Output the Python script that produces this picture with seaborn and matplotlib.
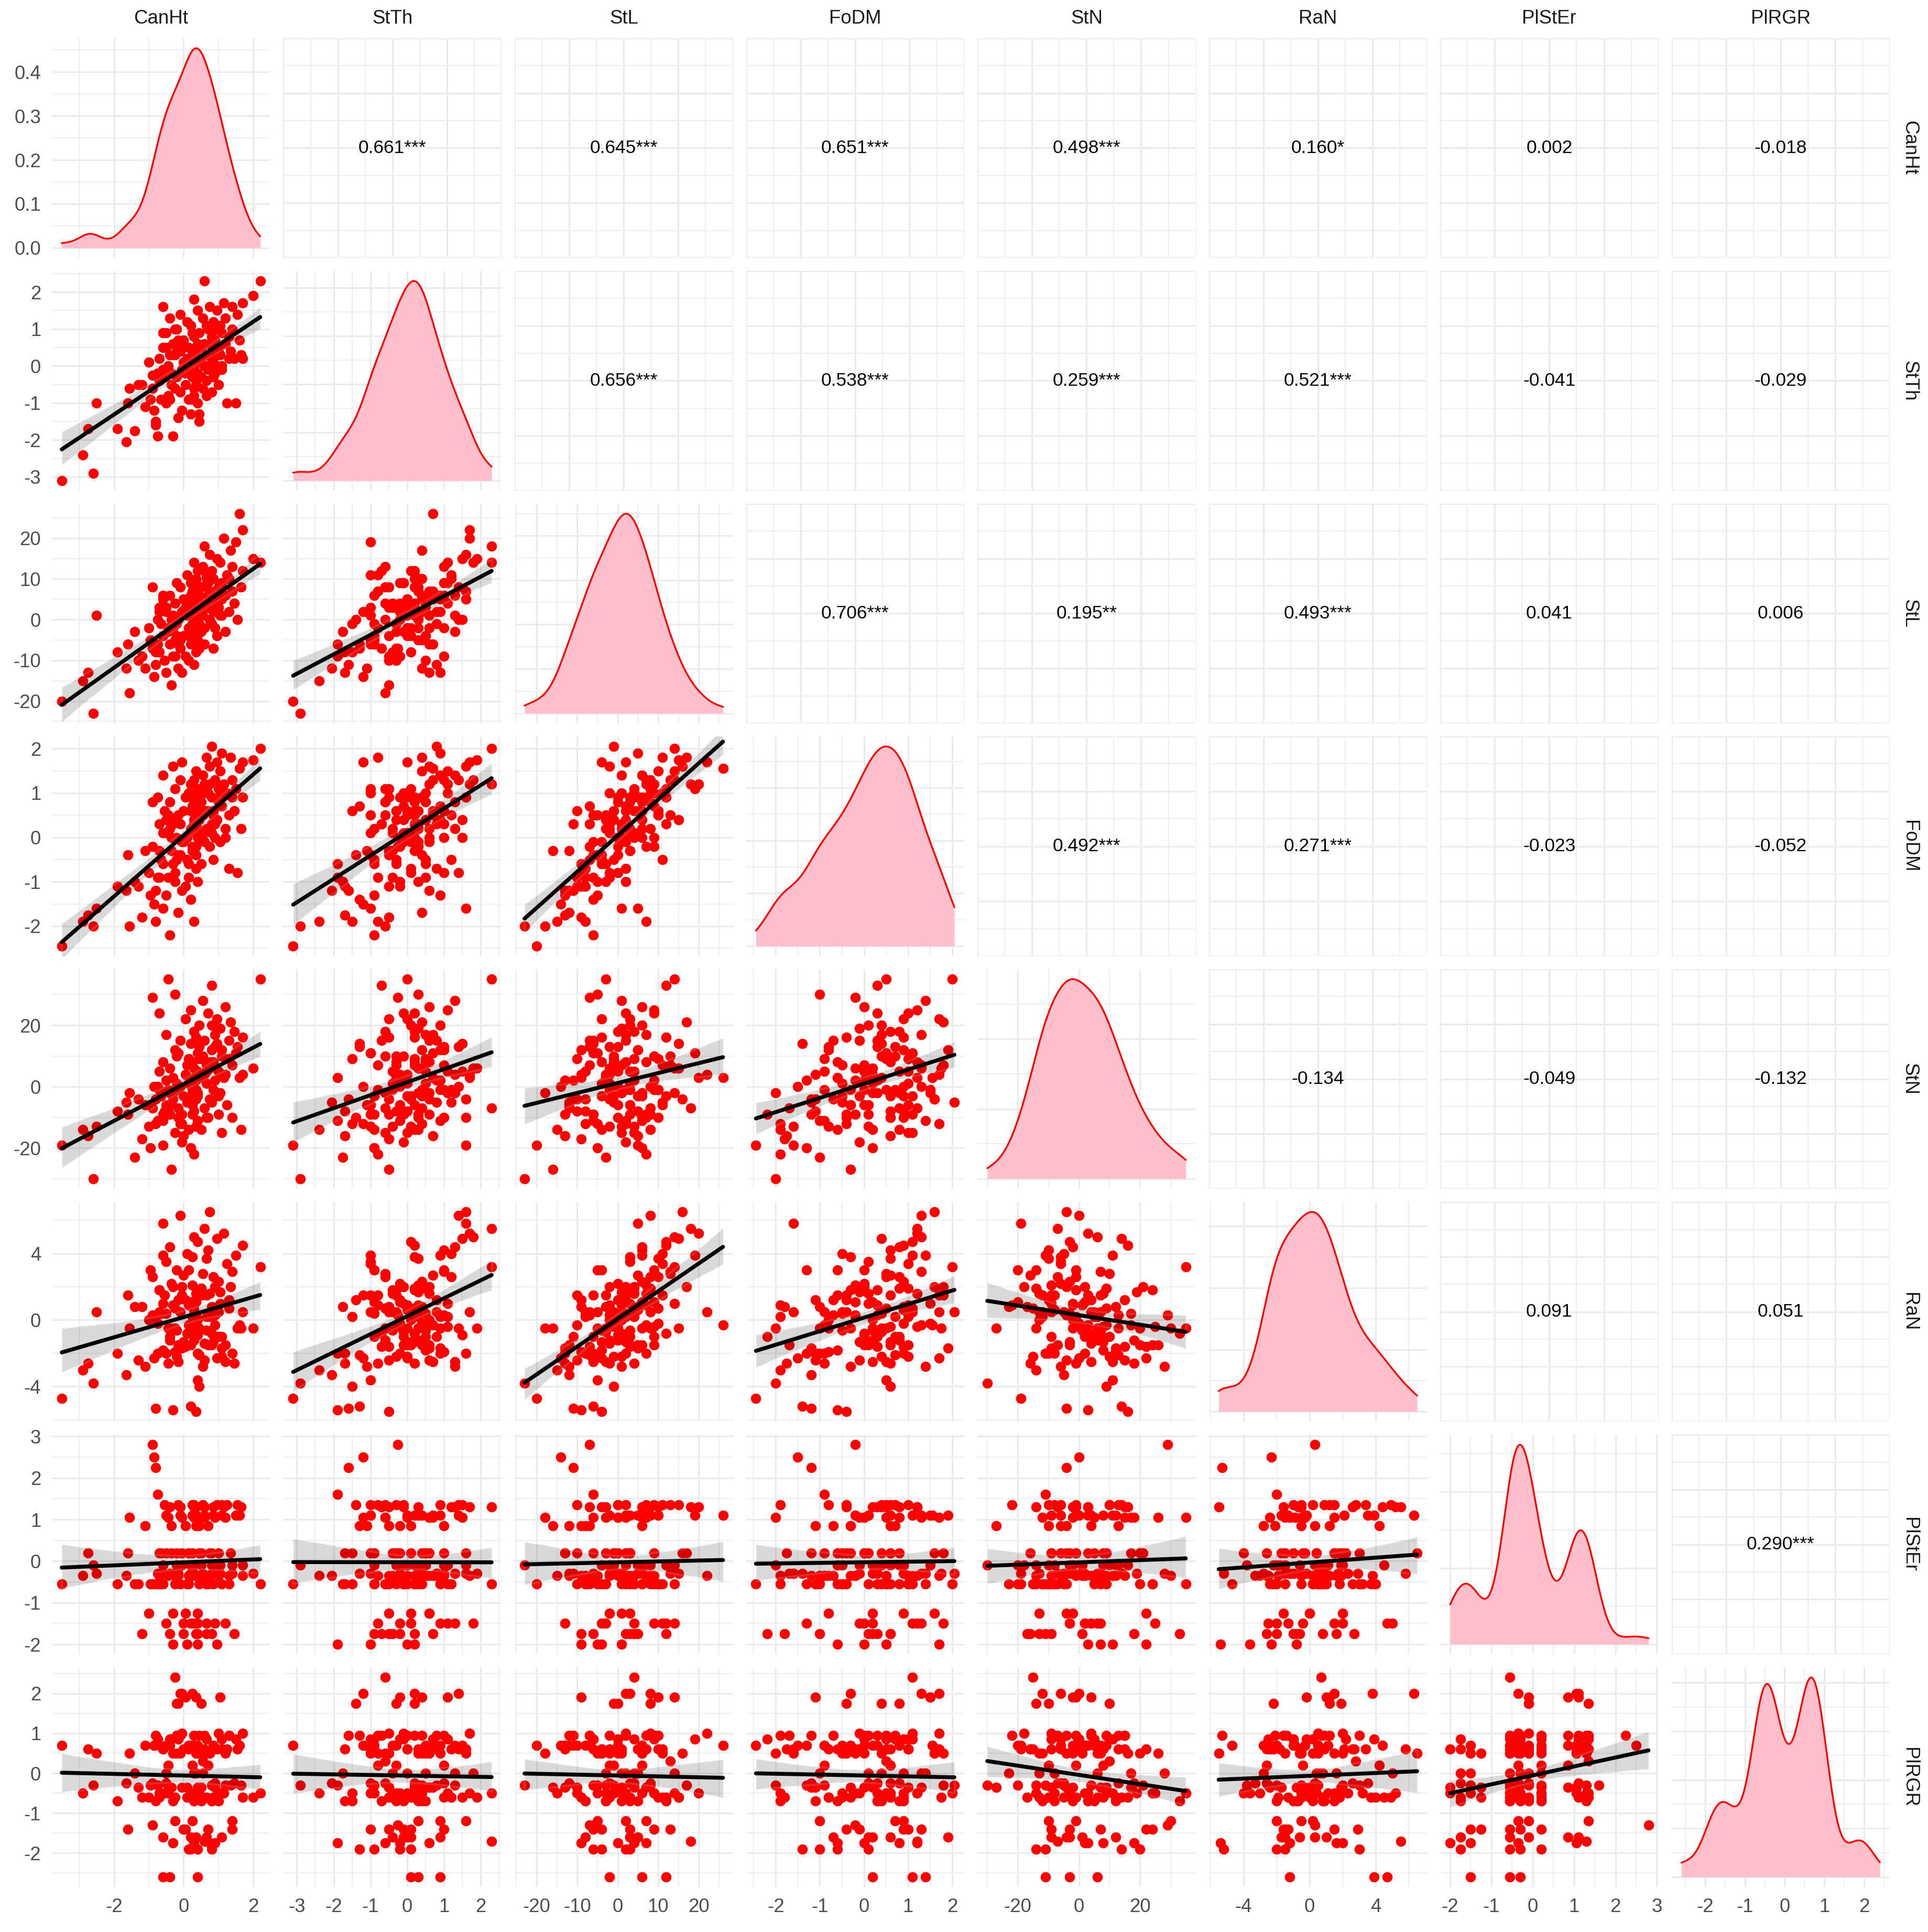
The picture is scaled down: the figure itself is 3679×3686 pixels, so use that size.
import matplotlib
matplotlib.use("Agg")
import matplotlib.pyplot as plt
from matplotlib.ticker import MultipleLocator, AutoMinorLocator, FixedLocator, MaxNLocator
import pandas as pd
import seaborn as sns

variables = ["CanHt", "StTh", "StL", "FoDM", "StN", "RaN", "PlStEr", "PlRGR"]

CanHt = [
    -3.5, -2.9, -2.75, -2.6, -2.5, -1.9, -1.65, -1.6, -1.55, -1.4,
    -1.2, -1.1, -1.0, -0.95, -0.9, -0.85, -0.8, -0.75, -0.7, -0.7,
    -0.65, -0.6, -0.6, -0.55, -0.5, -0.5, -0.45, -0.4, -0.4, -0.35,
    -0.3, -0.3, -0.25, -0.25, -0.2, -0.2, -0.15, -0.15, -0.1, -0.1,
    -0.05, 0.0, 0.0, 0.05, 0.05, 0.1, 0.1, 0.15, 0.15, 0.2,
    0.2, 0.25, 0.25, 0.3, 0.3, 0.3, 0.35, 0.35, 0.4, 0.4,
    0.2, 0.25, 0.25, 0.3, 0.3, 0.3, 0.35, 0.35, 0.4, 0.4,
    0.4, 0.45, 0.45, 0.5, 0.5, 0.5, 0.55, 0.55, 0.6, 0.6,
    0.6, 0.65, 0.65, 0.7, 0.7, 0.75, 0.75, 0.8, 0.8, 0.8,
    0.85, 0.85, 0.9, 0.9, 0.95, 0.95, 1.0, 1.0, 1.05, 1.05,
    1.1, 1.1, 1.15, 1.2, 1.2, 1.25, 1.3, 1.3, 1.35, 1.4,
    1.4, 1.45, 1.5, 1.55, 1.6, 1.65, 1.7, 2.0, 2.2, 1.7,
    -0.35, -0.2, -0.3, -0.6, -0.15, -0.7, -0.05, -0.4, -0.9, -0.25,
    -0.5, 0.2, -0.75, -0.1, 0.75, 0.8, 0.9, 1.0, -0.6, -0.45,
    -0.05, 0.15, 0.35, 0.45, 0.65, 0.65, 0.85, 1.1, -1.3, -0.8,
]

StTh = [
    -3.1, -2.4, -1.7, -2.9, -1.0, -1.7, -2.05, -1.0, -0.6, -1.75,
    -0.5, -1.1, 0.1, -0.9, -0.25, -1.2, -1.6, -1.9, 0.2, -0.4,
    -0.9, 0.5, 1.6, -0.3, -1.0, 0.9, 0.0, 1.3, -0.9, -0.5,
    0.6, -1.9, -0.6, 0.3, 1.0, -0.3, 0.4, -1.4, 1.4, -0.7,
    -1.2, 0.1, 0.7, -0.2, -0.5, 0.2, 1.2, 0.0, 0.5, -0.9,
    -1.3, 0.9, 0.3, -0.1, -0.6, 1.8, -0.4, 0.1, 0.6, -1.0,
    1.1, 0.2, -0.3, 0.0, 0.8, -0.8, 0.4, -0.5, 1.5, 0.1,
    -0.2, -1.3, 0.9, 0.5, -0.3, 0.2, 1.3, -0.6, 0.0, 2.3,
    0.6, -0.8, -0.4, 1.0, -0.1, 0.3, 1.6, 0.4, 0.8, -0.7,
    0.2, 1.2, 0.7, -0.2, 1.5, 0.0, -0.5, 0.5, 1.1, 0.3,
    -0.1, 0.9, 1.7, 0.6, 1.3, -1.0, 0.2, 0.8, 0.4, 1.6,
    1.0, 0.2, -1.0, 1.4, 0.7, 0.3, 0.2, 1.9, 2.3, 1.7,
    -0.2, 0.5, 0.3, 0.9, 0.7, -0.4, -0.1, 0.3, -0.6, 1.0,
    0.5, 0.0, -0.2, 0.4, 0.6, 0.1, 1.0, 0.4, -0.1, -0.8,
    0.6, -0.9, -0.2, -1.5, 1.1, 0.3, -0.3, 0.0, -0.5, -1.5,
]

StL = [
    -20, -15, -13, -23, 1, -8, -12, -6, -18, -3,
    -9, -12, -2, -5, -7, -14, -11, -6, 2, -8,
    -1, -4, 5, -10, 3, -13, -3, 6, -6, -16,
    -2, -9, 4, -5, 9, -1, -12, 0, 8, -7,
    2, -4, 5, -9, 3, 1, 11, -2, -10, 6,
    -6, 2, 7, -3, 0, 14, 4, -8, 1, -5,
    9, 3, -1, 5, -11, 7, 10, -4, 0, 12,
    2, -7, 6, 4, -3, 8, 1, 13, -2, 18,
    -6, 11, 3, 6, 9, 0, 16, 5, -1, 12,
    2, 10, 7, 4, 15, -4, 8, 3, 14, 1,
    9, 5, 20, 6, -3, 11, 10, 2, 17, 7,
    13, 4, 19, 0, 26, 8, 12, 15, 14, 22,
    0, -4, 1, 6, -6, 3, 2, -2, 8, -9,
    2, 5, 0, -5, 7, 3, -2, 6, 3, -2,
    -13, -4, 9, -1, 4, 10, -7, 1, -10, -8,
]

FoDM = [
    -2.45, -1.9, -1.75, -2.0, -1.6, -1.1, -1.2, -0.4, -2.0, -1.0,
    -1.8, -0.3, -0.8, -1.3, -0.2, -1.5, -1.2, -0.9, 0.3, -0.9,
    -0.5, -0.6, -1.6, 0.6, 0.1, -1.3, 0.5, 0.8, -2.2, -0.3,
    1.6, -0.6, 1.1, -1.0, 0.0, 0.4, -1.7, -0.4, 1.3, 0.3,
    1.7, -0.1, 0.6, -1.1, 0.9, 0.0, -0.5, 1.0, -0.9, 0.2,
    -1.4, 0.7, -0.2, 0.4, 0.8, 1.3, 0.1, -0.7, 0.2, 0.5,
    1.2, -0.3, 0.6, 0.9, 0.3, -1.9, 1.5, -0.4, 0.0, 1.1,
    -1.0, 0.7, 0.4, 1.0, -0.6, 0.8, 1.4, 0.5, 0.1, 1.2,
    -0.1, 1.8, 0.2, 0.6, 1.0, -0.2, 1.6, 0.9, 2.05, 0.3,
    0.6, 0.5, 1.3, 0.0, 0.4, 1.7, 1.1, 0.8, 1.5, -0.1,
    0.7, 1.9, 1.2, 0.0, 0.2, 1.0, 0.5, -0.7, 1.8, 0.9,
    1.3, 0.6, 1.1, -0.8, 1.55, 0.2, 0.9, 1.75, 2.0, 1.7,
    0.0, -0.5, 0.3, 1.4, 0.5, -0.3, -0.1, 0.2, 0.8, -0.8,
    0.4, 0.6, 0.9, -0.4, 1.2, 0.1, 0.3, 0.9, 0.1, -0.9,
    -1.2, -0.6, -0.2, 0.6, 1.0, 0.6, -0.5, 1.0, -1.1, -1.9,
]

StN = [
    -19, -14, -16, -30, -13, -8, -5, -9, -2, -23,
    -17, -6, -13, -20, 29, 0, -4, -11, 24, 5,
    -3, 8, -19, -8, -6, 2, 35, -2, -9, -27,
    -4, 3, -15, 30, -1, 10, -7, -10, 0, 15,
    -12, -3, -16, 4, 22, 7, -5, 1, 9, -20,
    14, -1, -9, 3, 18, 6, -13, -4, -2, 11,
    25, -6, 8, -8, 2, -22, -1, 16, 5, -3,
    -11, 13, 20, 9, 3, -14, 28, 10, 4, -7,
    15, 7, 1, -10, 24, 6, -4, 12, -5, 33,
    8, -1, 17, 2, 14, 22, -9, 5, -2, 19,
    10, 12, 3, 26, 4, -6, 9, 15, 21, -10,
    7, 18, 11, 13, 3, -14, 16, 6, 35, 4,
    -6, 1, -2, -11, 11, -1, -18, 6, -7, 12,
    17, -3, 0, -12, 8, 20, 13, -3, -9, -1,
    -9, -14, 2, 9, 5, -10, 7, -15, -4, -12,
]

RaN = [
    -4.7, -3.0, -2.6, -3.8, 0.5, -2.0, -3.3, 1.5, -0.5, 0.8,
    0.8, -2.8, 0.0, 3.0, 0.3, -2.3, -5.3, -2.0, 1.8, 0.5,
    0.4, -1.8, 5.8, 1.5, 3.5, -2.0, -0.5, 4.4, -1.0, -0.5,
    2.0, -5.4, 0.7, -0.5, 3.0, -2.2, -1.5, 1.2, 6.3, -1.6,
    1.5, -1.3, 2.7, 1.2, -1.6, -0.8, 4.0, 0.9, -0.3, 1.1,
    -5.2, 0.2, 2.1, -0.7, -1.2, 5.0, 1.6, 0.3, 0.0, -3.6,
    -0.4, 3.8, -0.4, 0.6, -1.0, 0.9, -0.2, -5.5, -0.9, 4.7,
    -2.0, -2.1, -0.5, 1.9, 1.5, 1.9, -2.8, 2.8, -1.4, 5.5,
    -2.4, 1.5, -0.6, 4.2, -1.5, 0.2, 6.5, 0.8, 0.5, -0.8,
    -1.3, 2.6, -0.3, 2.0, 4.9, -2.3, 0.5, -1.0, 1.0, 1.7,
    -1.0, -1.7, 5.2, -1.5, -2.5, 3.4, 0.7, 1.2, 2.0, -2.0,
    2.9, -2.6, 3.9, -0.5, -0.3, -0.5, 4.5, -0.5, 3.2, 0.5,
    2.2, -0.6, 0.9, 3.9, -2.5, 1.8, 2.0, -1.2, 2.6, -1.9,
    0.4, -1.5, -0.2, 0.5, 1.6, -1.5, 0.3, 2.3, 1.0, -2.6,
    -1.7, 3.0, 1.1, -4.0, 0.2, 3.7, 0.5, -2.2, -2.4, 0.2,
]

PlStEr = [
    -0.55, -0.35, 0.2, -0.1, -0.3, -0.55, -0.35, 0.2, 1.05, -0.55,
    -1.75, 0.85, -1.25, -0.55, 2.8, 2.5, 2.25, 1.6, -0.55, -0.35,
    0.2, -0.1, -0.3, 1.35, 1.1, -1.5, 1.05, 1.3, -1.75, 0.85,
    -1.25, -2.0, -0.55, -0.35, 0.2, -0.1, -0.3, 1.35, 1.1, 1.3,
    1.05, -1.5, -1.75, 0.85, -1.25, -2.0, -0.55, -0.35, 0.2, -0.1,
    -0.3, 1.35, 1.1, 1.3, 1.05, -1.5, -1.75, 0.85, -1.25, -2.0,
    -1.5, -0.35, 0.2, -0.1, -0.3, 1.35, 1.1, 1.3, 1.05, -1.5,
    -1.75, 0.85, -0.55, -0.35, 0.2, -0.1, -0.3, 1.35, 1.1, 1.3,
    1.05, -1.5, -1.75, 0.85, -0.55, -0.35, 0.2, -0.1, -0.3, -1.75,
    1.1, 1.3, 1.05, -1.5, 1.35, -2.0, -0.35, 0.2, -0.1, -0.3,
    1.35, 1.1, 1.3, 1.05, -1.5, 1.35, -0.55, -0.35, 0.2, -0.1,
    -0.3, -1.75, 1.1, 1.35, 1.1, 1.3, -0.1, -0.3, -0.55, -0.35,
    0.2, -0.1, -0.3, -0.55, -0.35, 0.2, -0.1, -0.3, -0.55, -0.35,
    0.2, -0.1, -0.3, -0.55, -0.35, 0.2, -0.1, -0.3, -0.55, -0.35,
    0.2, -0.55, -0.35, 0.2, -0.55, -0.55, -0.55, -0.55, -0.55, -0.55,
]

PlRGR = [
    0.7, -0.5, 0.6, -0.3, 0.5, -0.7, -0.25, -1.4, 0.5, 0.0,
    -0.6, 0.7, -0.6, -0.3, -1.3, 0.7, 0.95, -0.3, -0.5, 0.7,
    -0.5, 0.6, 0.6, -0.5, -0.25, 0.7, -0.5, 0.7, 0.85, -0.35,
    0.5, -1.75, 2.4, -1.2, 0.95, 1.75, 0.95, 1.75, 2.0, 0.95,
    2.0, -1.4, 0.6, 1.9, -1.4, -0.35, -0.6, 0.6, 0.7, 0.7,
    -1.9, -1.2, 0.6, -0.7, -1.75, 0.0, 0.0, -1.6, -0.35, -0.5,
    -0.5, 2.0, 0.2, 0.0, 0.7, 0.95, 1.9, 0.5, 0.7, -2.6,
    -1.9, 0.95, 0.5, -0.35, -0.7, 1.75, 0.0, 0.3, 0.95, -1.7,
    0.6, 0.5, -1.6, 0.2, -1.4, 0.5, 0.5, -0.7, -0.3, -0.7,
    -0.6, 0.6, -0.35, -1.75, -0.6, 0.6, 1.0, -0.7, 1.9, -0.5,
    0.85, -1.6, -0.5, 0.5, -0.3, 0.6, 0.95, 0.95, -0.3, -1.2,
    -1.4, -0.25, 0.85, 0.6, 0.7, -0.3, -0.6, -0.6, -0.5, 1.0,
    0.85, 0.5, -0.7, -2.6, 0.85, -0.6, 1.0, -2.6, -0.25, -0.6,
    0.0, -1.6, 0.85, 0.5, -1.75, -1.9, -0.25, -0.5, -1.6, 0.2,
    -0.35, -1.9, -0.5, -0.5, 0.85, -0.6, 0.7, 0.6, -0.35, -0.7,
]

# correlation labels, upper triangle, row by row
cor_labels = [
    ["0.661***", "0.645***", "0.651***", "0.498***", "0.160*", "0.002", "-0.018"],
    ["0.656***", "0.538***", "0.259***", "0.521***", "-0.041", "-0.029"],
    ["0.706***", "0.195**", "0.493***", "0.041", "0.006"],
    ["0.492***", "0.271***", "-0.023", "-0.052"],
    ["-0.134", "-0.049", "-0.132"],
    ["0.091", "0.051"],
    ["0.290***"],
]

tick_step = [2, 1, 10, 1, 20, 4, 1, 1]

sns.set_style("white")
plt.rcParams["font.family"] = ["Liberation Sans", "DejaVu Sans"]
plt.rcParams["axes.unicode_minus"] = False

df = pd.DataFrame({
    "CanHt": CanHt, "StTh": StTh, "StL": StL, "FoDM": FoDM,
    "StN": StN, "RaN": RaN, "PlStEr": PlStEr, "PlRGR": PlRGR,
})

GRID = "#EBEBEB"
n = len(variables)
fig, axes = plt.subplots(n, n, figsize=(3679 / 300, 3686 / 300), dpi=300)
fig.subplots_adjust(left=0.0269, right=0.9802, bottom=0.0233, top=0.9802,
                    wspace=0.06, hspace=0.06)

# ggplot-like 5% expansion of the data range
lims = {}
for v in variables:
    lo, hi = df[v].min(), df[v].max()
    pad = 0.05 * (hi - lo)
    lims[v] = (lo - pad, hi + pad)

for i, yv in enumerate(variables):
    for j, xv in enumerate(variables):
        ax = axes[i, j]

        if i > j:
            # lower: scatter + linear fit
            sns.regplot(
                data=df, x=xv, y=yv, ax=ax, color="black", seed=3,
                scatter_kws={"color": "red", "s": 22, "linewidths": 0, "alpha": 1},
                line_kws={"linewidth": 1.8},
            )
            ax.set_xlim(lims[xv])
            ax.set_ylim(lims[yv])
            ax.xaxis.set_major_locator(MultipleLocator(tick_step[j]))
            ax.yaxis.set_major_locator(MultipleLocator(tick_step[i]))

        elif i == j:
            # diagonal: density
            sns.kdeplot(x=df[xv], ax=ax, cut=0, bw_adjust=0.85, fill=True,
                        color="pink", alpha=1, linewidth=0)
            sns.kdeplot(x=df[xv], ax=ax, cut=0, bw_adjust=0.85,
                        color="red", linewidth=0.8)
            peak = ax.lines[-1].get_ydata().max()
            ax.set_xlim(lims[xv])
            ax.set_ylim(-0.05 * peak, 1.05 * peak)
            ax.xaxis.set_major_locator(MultipleLocator(tick_step[j]))
            ax.yaxis.set_major_locator(MaxNLocator(nbins=5, steps=[1, 2, 2.5, 5, 10]))

        else:
            # upper: correlation text
            ax.set_xlim(0, 1)
            ax.set_ylim(0, 1)
            ax.xaxis.set_major_locator(FixedLocator([0, 0.25, 0.5, 0.75, 1]))
            ax.yaxis.set_major_locator(FixedLocator([0, 0.25, 0.5, 0.75, 1]))
            ax.text(0.5, 0.5, cor_labels[i][j - i - 1], transform=ax.transAxes,
                    ha="center", va="center", fontsize=8.5, color="black")

        ax.xaxis.set_minor_locator(AutoMinorLocator(2))
        ax.yaxis.set_minor_locator(AutoMinorLocator(2))
        ax.grid(which="major", color=GRID, linewidth=0.75)
        ax.grid(which="minor", color=GRID, linewidth=0.4)
        ax.set_axisbelow(True)
        ax.set_xlabel("")
        ax.set_ylabel("")
        for s in ax.spines.values():
            s.set_visible(False)
        ax.tick_params(which="both", length=0, labelsize=8.8,
                       labelcolor="#4D4D4D", pad=5,
                       labelleft=(j == 0), labelbottom=(i == n - 1))

# strip labels
for k, v in enumerate(variables):
    axes[0, k].annotate(v, xy=(0.5, 1), xycoords="axes fraction",
                        xytext=(0, 9), textcoords="offset points",
                        ha="center", va="center", fontsize=8.8, color="#1A1A1A")
    axes[k, -1].annotate(v, xy=(1, 0.5), xycoords="axes fraction",
                         xytext=(9, 0), textcoords="offset points",
                         ha="center", va="center", rotation=-90,
                         fontsize=8.8, color="#1A1A1A")

fig.savefig("out.png", dpi=300)
